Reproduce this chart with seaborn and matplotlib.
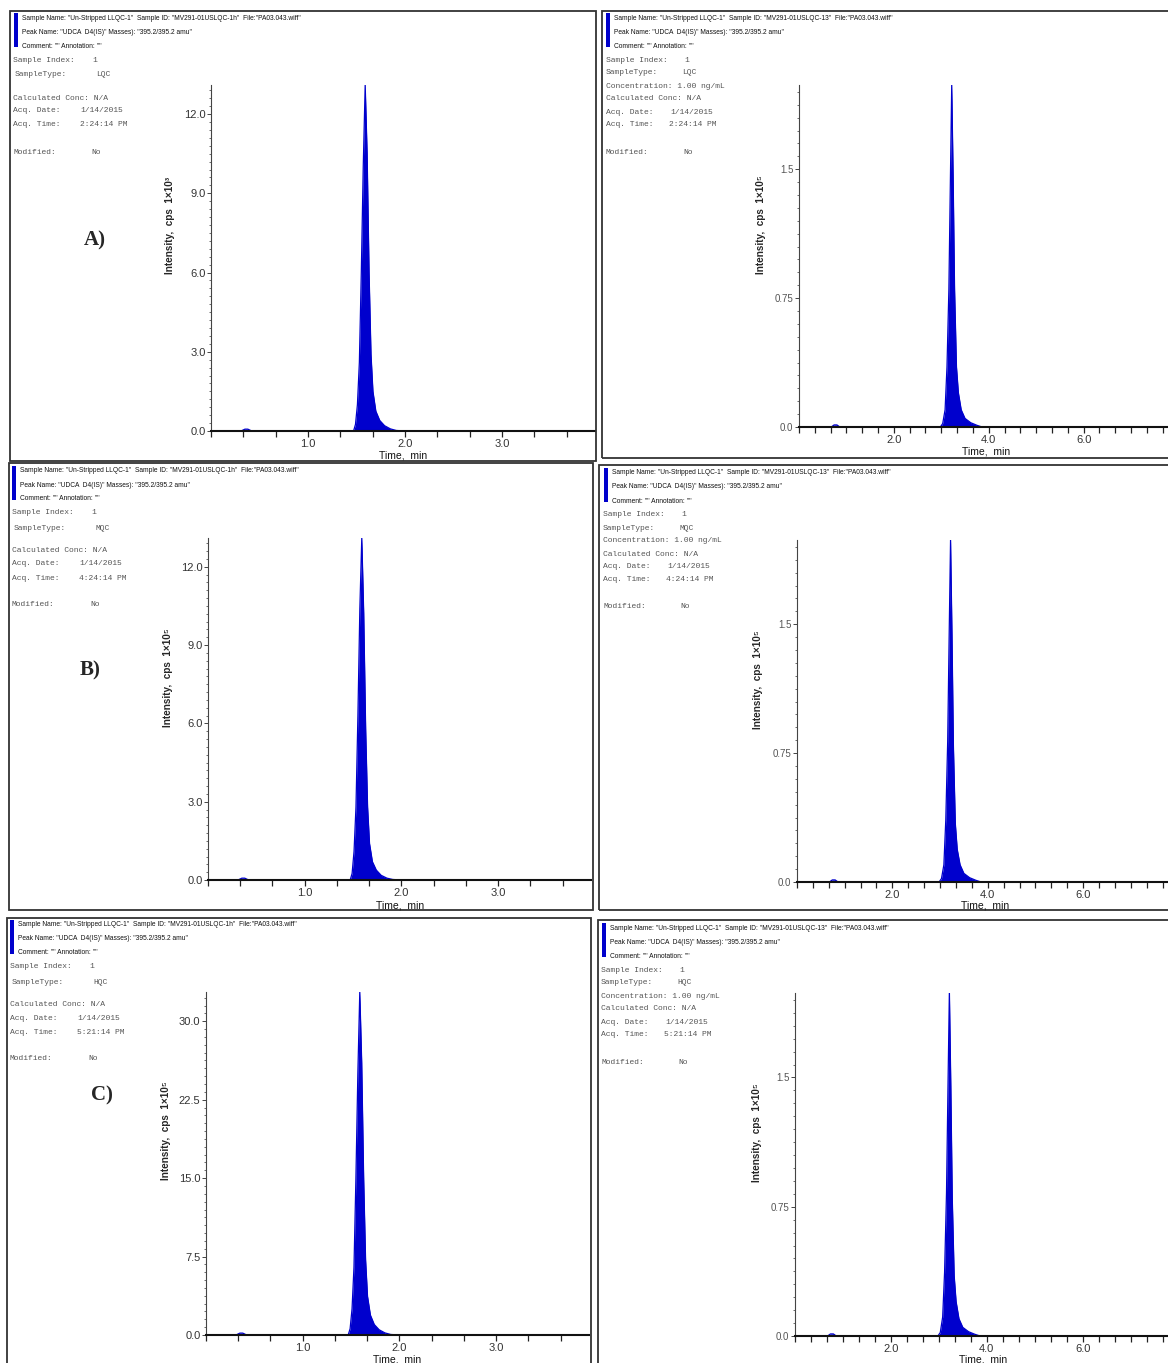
import matplotlib
matplotlib.use('Agg')
import matplotlib.pyplot as plt
import seaborn as sns
import pandas as pd
from matplotlib.patches import Rectangle
from matplotlib.ticker import MultipleLocator

W, H = 1168, 1363
sns.set_style('white')
plt.rcParams['font.family'] = ['Liberation Sans Narrow', 'Liberation Sans', 'DejaVu Sans']

# ---------------- data ----------------
left_time = [0.00, 0.31, 0.35, 0.38, 0.42, 1.47, 1.49, 1.51, 1.53, 1.55, 1.57, 1.59,
             1.61, 1.63, 1.65, 1.67, 1.70, 1.74, 1.79, 1.85, 1.91, 2.00, 3.96]
lqc_left = [0, 0, 0.07, 0.07, 0, 0, 0.25, 1.0, 2.6, 6.0, 10.0, 13.1,
            10.5, 6.0, 2.9, 1.5, 0.75, 0.40, 0.20, 0.08, 0.02, 0, 0]
mqc_left = [0, 0, 0.07, 0.07, 0, 0, 0.25, 1.1, 2.8, 6.3, 10.4, 13.1,
            10.2, 5.8, 2.8, 1.4, 0.70, 0.38, 0.18, 0.07, 0.02, 0, 0]
hqc_left = [0, 0, 0.18, 0.18, 0, 0, 0.6, 2.5, 6.5, 15.0, 25.0, 32.8,
            26.0, 15.0, 7.2, 3.7, 1.9, 1.0, 0.5, 0.2, 0.05, 0, 0]

right_time = [0.00, 0.68, 0.74, 0.80, 0.86, 2.98, 3.03, 3.08, 3.12, 3.16, 3.19, 3.22,
              3.25, 3.28, 3.32, 3.36, 3.42, 3.50, 3.62, 3.75, 3.86, 7.78]
lqc_right = [0, 0, 0.012, 0.012, 0, 0, 0.02, 0.10, 0.35, 0.80, 1.40, 1.99,
             1.45, 0.80, 0.35, 0.20, 0.10, 0.05, 0.025, 0.01, 0, 0]
mqc_right = [0, 0, 0.012, 0.012, 0, 0, 0.02, 0.10, 0.36, 0.82, 1.42, 1.99,
             1.44, 0.79, 0.34, 0.19, 0.10, 0.05, 0.025, 0.01, 0, 0]
hqc_right = [0, 0, 0.012, 0.012, 0, 0, 0.02, 0.11, 0.37, 0.83, 1.43, 2.00,
             1.45, 0.80, 0.35, 0.20, 0.10, 0.05, 0.025, 0.01, 0, 0]

panel_labels = ['A)', 'B)', 'C)']
sample_types = ['LQC', 'MQC', 'HQC']
acq_times = ['2:24:14 PM', '4:24:14 PM', '5:21:14 PM']
acq_date = '1/14/2015'

left_yticks = [[0, 3, 6, 9, 12], [0, 3, 6, 9, 12], [0, 7.5, 15, 22.5, 30]]
left_yticklabels = [['0.0', '3.0', '6.0', '9.0', '12.0'],
                    ['0.0', '3.0', '6.0', '9.0', '12.0'],
                    ['0.0', '7.5', '15.0', '22.5', '30.0']]
left_ymax = [13.1, 13.1, 32.8]
left_yminor = [0.3, 0.3, 0.75]
left_ylabels = ['Intensity,  cps  1\u00d710\u00b3', 'Intensity,  cps  1\u00d710\u2075',
                'Intensity,  cps  1\u00d710\u2075']
right_yticks = [0, 0.75, 1.5]
right_yticklabels = ['0.0', '0.75', '1.5']
right_ylabel = 'Intensity,  cps  1\u00d710\u2075'
left_xticks = [1.0, 2.0, 3.0]
left_xticklabels = ['1.0', '2.0', '3.0']
right_xticks = [2.0, 4.0, 6.0]
right_xticklabels = ['2.0', '4.0', '6.0']

left_series = [lqc_left, mqc_left, hqc_left]
right_series = [lqc_right, mqc_right, hqc_right]

# ---------------- layout (pixels) ----------------
left_axes_px = [(211, 595, 85, 431), (208, 591, 538, 880), (206, 589, 992, 1335)]
right_axes_px = [(799, 1168, 85, 427), (797, 1168, 540, 882), (795, 1168, 993, 1336)]
left_boxes = [(10, 11, 596, 461), (9, 463, 593, 910), (7, 918, 591, 1366)]
right_boxes = [(602, 11, 1172, 458), (599, 465, 1172, 910), (598, 920, 1172, 1366)]
left_head = [(22, 13, 18), (20, 12, 471), (18, 10, 925)]     # header x, info x, header y
right_head = [(614, 606, 18), (612, 603, 473), (610, 601, 928)]
label_pos = [(95, 240), (90, 670), (102, 1095)]
left_ylab_pos = [(170, 225), (168, 678), (166, 1131)]
right_ylab_pos = [(761, 225), (758, 680), (757, 1133)]
left_xlab_pos = [(403, 456), (400, 905), (397, 1359)]
right_xlab_pos = [(986, 452), (985, 906), (983, 1359)]

PEAK = '#0000CD'
fig = plt.figure(figsize=(W / 100, H / 100), dpi=100)


def ftext(x, y, s, **kw):
    fig.text(x / W, 1 - y / H, s, **kw)


def make_axes(px):
    x0, x1, top, bot = px
    return fig.add_axes([x0 / W, 1 - bot / H, (x1 - x0) / W, (bot - top) / H])


def style_axes(ax, xmax, ymax, xt, xtl, yt, ytl, yminor, ysize, ycolor):
    ax.set_xlim(0, xmax)
    ax.set_ylim(0, ymax)
    for s in ['top', 'right']:
        ax.spines[s].set_visible(False)
    ax.spines['left'].set_color('#444444')
    ax.spines['left'].set_linewidth(0.8)
    ax.spines['bottom'].set_color('#111111')
    ax.spines['bottom'].set_linewidth(1.5)
    ax.set_xticks(xt)
    ax.set_xticklabels(xtl)
    ax.set_yticks(yt)
    ax.set_yticklabels(ytl)
    ax.xaxis.set_minor_locator(MultipleLocator(1 / 3))
    ax.yaxis.set_minor_locator(MultipleLocator(yminor))
    ax.tick_params(axis='x', which='both', direction='out', length=4, width=0.9,
                   color='#222222', labelsize=8, labelcolor='#333333', pad=2,
                   bottom=True)
    ax.tick_params(axis='y', which='major', direction='out', length=3, width=0.7,
                   color='#444444', labelsize=ysize, labelcolor=ycolor, pad=1,
                   left=True)
    ax.tick_params(axis='y', which='minor', direction='out', length=1.8, width=0.6,
                   color='#555555', left=True)
    ax.set_xlabel('')
    ax.set_ylabel('')
    ax.grid(False)
    ax.patch.set_alpha(0)


def draw_peak(ax, t, v):
    df = pd.DataFrame({'t': t, 'v': v})
    sns.lineplot(data=df, x='t', y='v', ax=ax, color=PEAK, lw=0.9, sort=False)
    ax.fill_between(df['t'], df['v'], 0, color=PEAK, lw=0)


def header(hx, hy, right):
    sid = 'MV291-01USLQC-13' if right else 'MV291-01USLQC-1h'
    lines = ['Sample Name: "Un-Stripped LLQC-1"  Sample ID: "%s"  File:"PA03.043.wiff"' % sid,
             'Peak Name: "UDCA  D4(IS)" Masses): "395.2/395.2 amu"',
             'Comment: "" Annotation: ""']
    for i, s in enumerate(lines):
        ftext(hx, hy + 14 * i, s, fontsize=4.8, va='center', ha='left', color='#111111',
              family=['Liberation Sans Narrow', 'Liberation Sans', 'DejaVu Sans'])
    fig.add_artist(Rectangle(((hx - 8) / W, 1 - (hy + 29) / H), 3.5 / W, 34 / H,
                             transform=fig.transFigure, color='#0000CC', lw=0))


MONO = dict(fontsize=5.8, va='center', ha='left', color='#555555',
            family=['Liberation Mono', 'DejaVu Sans Mono'])

for r in range(3):
    # boxes
    for (x0, y0, x1, y1) in [left_boxes[r], right_boxes[r]]:
        fig.add_artist(Rectangle((x0 / W, 1 - y1 / H), (x1 - x0) / W, (y1 - y0) / H,
                                 transform=fig.transFigure, fill=False, lw=1.3,
                                 ec='#333333'))

    # ---- left panel ----
    hx, ix, hy = left_head[r]
    header(hx, hy, False)
    ftext(ix, hy + 42, 'Sample Index:', **MONO)
    ftext(ix + 79, hy + 42, '1', **MONO)
    ftext(ix + 2, hy + 57, 'SampleType:', **MONO)
    ftext(ix + 83, hy + 57, sample_types[r], **MONO)
    ftext(ix, hy + 80, 'Calculated Conc: N/A', **MONO)
    ftext(ix, hy + 93, 'Acq. Date:', **MONO)
    ftext(ix + 67, hy + 93, acq_date, **MONO)
    ftext(ix, hy + 107, 'Acq. Time:', **MONO)
    ftext(ix + 67, hy + 107, acq_times[r], **MONO)
    ftext(ix, hy + 134, 'Modified:', **MONO)
    ftext(ix + 78, hy + 134, 'No', **MONO)
    lx, ly = label_pos[r]
    ftext(lx, ly, panel_labels[r], fontsize=15, fontweight='bold', ha='center',
          va='center', family=['Liberation Serif', 'DejaVu Serif'])

    ax = make_axes(left_axes_px[r])
    draw_peak(ax, left_time, left_series[r])
    style_axes(ax, 3.96, left_ymax[r], left_xticks, left_xticklabels,
               left_yticks[r], left_yticklabels[r], left_yminor[r], 8, '#333333')
    yx, yy = left_ylab_pos[r]
    ftext(yx, yy, left_ylabels[r], rotation=90, fontsize=7.2, fontweight='bold',
          ha='center', va='center', family=['Liberation Sans', 'DejaVu Sans'])
    xx, xy = left_xlab_pos[r]
    ftext(xx, xy, 'Time,  min', fontsize=7.5, ha='center', va='center', color='#111111')

    # ---- right panel ----
    hx, ix, hy = right_head[r]
    header(hx, hy, True)
    ftext(ix, hy + 42, 'Sample Index:', **MONO)
    ftext(ix + 78, hy + 42, '1', **MONO)
    ftext(ix, hy + 55, 'SampleType:', **MONO)
    ftext(ix + 76, hy + 55, sample_types[r], **MONO)
    ftext(ix, hy + 68, 'Concentration: 1.00 ng/mL', **MONO)
    ftext(ix, hy + 81, 'Calculated Conc: N/A', **MONO)
    ftext(ix, hy + 94, 'Acq. Date:', **MONO)
    ftext(ix + 64, hy + 94, acq_date, **MONO)
    ftext(ix, hy + 107, 'Acq. Time:', **MONO)
    ftext(ix + 63, hy + 107, acq_times[r], **MONO)
    ftext(ix, hy + 134, 'Modified:', **MONO)
    ftext(ix + 77, hy + 134, 'No', **MONO)

    ax = make_axes(right_axes_px[r])
    draw_peak(ax, right_time, right_series[r])
    style_axes(ax, 7.78, 1.99, right_xticks, right_xticklabels,
               right_yticks, right_yticklabels, 0.075, 7, '#555555')
    yx, yy = right_ylab_pos[r]
    ftext(yx, yy, right_ylabel, rotation=90, fontsize=7.2, fontweight='bold',
          ha='center', va='center', family=['Liberation Sans', 'DejaVu Sans'])
    xx, xy = right_xlab_pos[r]
    ftext(xx, xy, 'Time,  min', fontsize=7.5, ha='center', va='center', color='#111111')

fig.savefig('out.png', dpi=100)
